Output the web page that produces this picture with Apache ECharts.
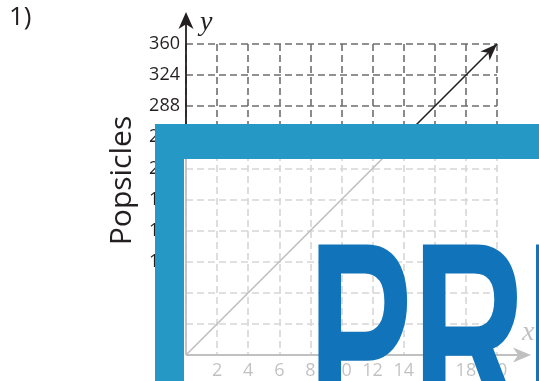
<!DOCTYPE html>
<html>
<head>
<meta charset="utf-8">
<script src="https://cdn.jsdelivr.net/npm/echarts@6/dist/echarts.min.js"></script>
<style>
html, body { margin: 0; padding: 0; background: #fff; }
#main { width: 539px; height: 381px; }
</style>
</head>
<body>
<div id="main"></div>
<script>
// 数据
var lineX = [0, 20];
var lineY = [0, 360];
var xTicks = [2, 4, 6, 8, 10, 12, 14, 16, 18, 20];
var yTicks = [36, 72, 108, 144, 180, 216, 252, 288, 324, 360];
var yTitle = 'Popsicles';
var problemNo = '1)';

var ink = '#231f20';
var gridGray = '#6d6e71';
var chart = echarts.init(document.getElementById('main'));

// 刻度文字只显示数组里的值
function tickFormatter(list) {
	return function (v) {
		return list.indexOf(v) > -1 ? String(v) : '';
	};
}

var option = {
	animation: false,
	title: {
		text: problemNo,
		left: 9,
		top: 5,
		padding: 0,
		textStyle: { fontFamily: 'Open Sans', fontSize: 26, fontWeight: 'normal', color: ink }
	},
	grid: { left: 186, right: 42, top: 44, bottom: 26, containLabel: false },
	xAxis: {
		type: 'value',
		min: 0,
		max: xTicks[xTicks.length - 1],
		interval: xTicks[1] - xTicks[0],
		axisLine: { show: false },
		axisTick: { show: false },
		axisLabel: {
			showMinLabel: false,
			margin: 7,
			color: ink,
			fontFamily: 'Open Sans',
			fontSize: 18,
			formatter: tickFormatter(xTicks)
		},
		splitLine: { show: true, lineStyle: { color: gridGray, width: 1.6, type: [7, 4] } }
	},
	yAxis: {
		type: 'value',
		min: 0,
		max: yTicks[yTicks.length - 1],
		interval: yTicks[1] - yTicks[0],
		name: yTitle,
		nameLocation: 'middle',
		nameGap: 49,
		nameTextStyle: { fontFamily: 'Open Sans', fontSize: 30, color: ink, padding: [0, 0, 0, 38] },
		axisLine: { show: false },
		axisTick: { show: false },
		axisLabel: {
			showMinLabel: false,
			margin: 6,
			color: ink,
			fontFamily: 'Open Sans',
			fontSize: 18,
			formatter: tickFormatter(yTicks)
		},
		splitLine: { show: true, lineStyle: { color: gridGray, width: 1.6, type: [7, 4] } }
	},
	series: [{
		type: 'line',
		data: lineX.map(function (x, i) { return [x, lineY[i]]; }),
		symbol: 'none',
		color: ink,
		lineStyle: { color: ink, width: 1.6 },
		silent: true,
		clip: false,
		z: 3
	}]
};
chart.setOption(option);

// 坐标轴（带箭头，超出网格）
var org = chart.convertToPixel({ gridIndex: 0 }, [0, 0]);
var topPt = chart.convertToPixel({ gridIndex: 0 }, [0, yTicks[yTicks.length - 1]]);
var rightPt = chart.convertToPixel({ gridIndex: 0 }, [xTicks[xTicks.length - 1], 0]);
var yTip = [org[0], topPt[1] - 32];
var xTip = [rightPt[0] + 34, org[1]];

// 线的终点箭头
var lineStart = chart.convertToPixel({ gridIndex: 0 }, [lineX[0], lineY[0]]);
var lineEnd = chart.convertToPixel({ gridIndex: 0 }, [lineX[lineX.length - 1], lineY[lineY.length - 1]]);
var ldx = lineEnd[0] - lineStart[0], ldy = lineEnd[1] - lineStart[1];
var llen = Math.sqrt(ldx * ldx + ldy * ldy);

function arrowHead(tip, dx, dy, len, wid) {
	var px = -dy, py = dx;
	return [
		tip,
		[tip[0] - dx * len + px * wid / 2, tip[1] - dy * len + py * wid / 2],
		[tip[0] - dx * len * 0.72, tip[1] - dy * len * 0.72],
		[tip[0] - dx * len - px * wid / 2, tip[1] - dy * len - py * wid / 2]
	];
}

var stampBlue = '#2598c6';
var stampText = '#1174bb';

chart.setOption({
	graphic: [
		{ type: 'line', z: 3, silent: true,
			shape: { x1: org[0], y1: org[1], x2: yTip[0], y2: yTip[1] + 10 },
			style: { stroke: ink, lineWidth: 1.8 } },
		{ type: 'polygon', z: 3, silent: true,
			shape: { points: arrowHead(yTip, 0, -1, 17, 15) },
			style: { fill: ink } },
		{ type: 'line', z: 3, silent: true,
			shape: { x1: org[0], y1: org[1], x2: xTip[0] - 10, y2: xTip[1] },
			style: { stroke: ink, lineWidth: 1.8 } },
		{ type: 'polygon', z: 3, silent: true,
			shape: { points: arrowHead(xTip, 1, 0, 18, 15) },
			style: { fill: ink } },
		{ type: 'polygon', z: 4, silent: true,
			shape: { points: arrowHead(lineEnd, ldx / llen, ldy / llen, 17, 13) },
			style: { fill: ink } },
		{ type: 'text', z: 3, silent: true, x: yTip[0] + 14, y: yTip[1] - 3,
			style: { text: 'y', font: 'italic 28px "Liberation Serif"', fill: ink, align: 'left', verticalAlign: 'top' } },
		{ type: 'text', z: 3, silent: true, x: xTip[0] - 9, y: xTip[1] - 8,
			style: { text: 'x', font: 'italic 28px "Liberation Serif"', fill: ink, align: 'left', verticalAlign: 'bottom' } },
		// 预览水印：半透明白底
		{ type: 'rect', z: 50, silent: true,
			shape: { x: 184, y: 159, width: 355, height: 222 },
			style: { fill: '#ffffff', opacity: 0.72 } },
		{ type: 'rect', z: 51, silent: true,
			shape: { x: 155, y: 124, width: 384, height: 35 },
			style: { fill: stampBlue } },
		{ type: 'rect', z: 51, silent: true,
			shape: { x: 155, y: 124, width: 29, height: 257 },
			style: { fill: stampBlue } },
		{ type: 'text', z: 52, silent: true, x: 308, y: 352, scaleX: 0.6,
			style: { text: 'PREVIEW', font: 'bold 261px "Liberation Sans"', fill: stampText, align: 'left', verticalAlign: 'middle' } }
	]
});
</script>
</body>
</html>
